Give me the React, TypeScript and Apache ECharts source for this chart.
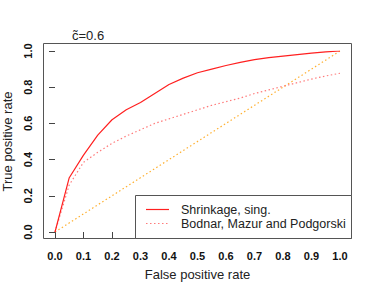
import React, { useEffect, useRef } from "react";
import * as echarts from "echarts";

const fpr = [0, 0.05, 0.1, 0.15, 0.2, 0.25, 0.3, 0.35, 0.4, 0.45, 0.5, 0.55, 0.6, 0.65, 0.7, 0.75, 0.8, 0.85, 0.9, 0.95, 1];
const shrinkageTpr = [0, 0.3, 0.425, 0.535, 0.62, 0.675, 0.715, 0.765, 0.815, 0.85, 0.88, 0.9, 0.92, 0.937, 0.952, 0.963, 0.972, 0.98, 0.988, 0.995, 1.0];
const bmpTpr = [0, 0.26, 0.385, 0.44, 0.49, 0.53, 0.565, 0.6, 0.625, 0.65, 0.675, 0.7, 0.72, 0.74, 0.765, 0.785, 0.805, 0.825, 0.845, 0.862, 0.877];
const diagX = [0, 1];
const diagY = [0, 1];
const seriesNames = ["Shrinkage, sing.", "Bodnar, Mazur and Podgorski"];
const titleText = "c\u0303=0.6";

const FONT = "'Liberation Sans', Arial, Helvetica, sans-serif";
const RED = "#ff2020";
const PINK = "#ff7a7a";
const ORANGE = "#ffb030";

export default function App() {
  const ref = useRef<HTMLDivElement>(null);
  useEffect(() => {
    if (!ref.current) return;
    const chart = echarts.init(ref.current, null, { renderer: "svg" });
    chart.setOption({
      animation: false,
      backgroundColor: "#ffffff",
      textStyle: { fontFamily: FONT },
      grid: { left: 55, top: 51, width: 285, height: 181, containLabel: false, outerBoundsMode: "none" },
      xAxis: {
        type: "value",
        min: 0,
        max: 1,
        interval: 0.1,
        offset: 7,
        name: "False positive rate",
        nameLocation: "middle",
        nameGap: 29,
        nameTextStyle: { fontSize: 13, color: "#222", fontFamily: FONT },
        axisLine: { show: false },
        axisTick: { show: true, length: 6, lineStyle: { color: "#444" } },
        splitLine: { show: false },
        axisLabel: {
          fontSize: 11,
          fontWeight: "bold",
          color: "#111",
          margin: 11,
          fontFamily: FONT,
          formatter: (v: number) => v.toFixed(1),
        },
      },
      yAxis: {
        type: "value",
        min: 0,
        max: 1,
        interval: 0.2,
        offset: 12,
        name: "True positive rate",
        nameLocation: "middle",
        nameGap: 29,
        nameTextStyle: { fontSize: 13, color: "#222", fontFamily: FONT },
        axisLine: { show: false },
        axisTick: { show: true, length: 6, lineStyle: { color: "#444" } },
        splitLine: { show: false },
        axisLabel: {
          fontSize: 11,
          fontWeight: "bold",
          color: "#111",
          rotate: 90,
          margin: 10,
          fontFamily: FONT,
          formatter: (v: number) => v.toFixed(1),
        },
      },
      graphic: [
        {
          type: "rect",
          shape: { x: 43.5, y: 43.5, width: 308, height: 195 },
          style: { fill: "none", stroke: "#555", lineWidth: 1 },
          z: 10,
          silent: true,
        },
        {
          type: "rect",
          shape: { x: 135.5, y: 195.5, width: 216, height: 43 },
          style: { fill: "#fff", stroke: "#555", lineWidth: 1 },
          z: 10,
          silent: true,
        },
        {
          type: "line",
          shape: { x1: 146, y1: 209.5, x2: 169, y2: 209.5 },
          style: { stroke: RED, lineWidth: 1.2 },
          z: 11,
          silent: true,
        },
        {
          type: "line",
          shape: { x1: 146, y1: 223.5, x2: 169, y2: 223.5 },
          style: { stroke: PINK, lineWidth: 1.2, lineDash: [1.5, 2.5] },
          z: 11,
          silent: true,
        },
        {
          type: "text",
          x: 181,
          y: 209.5,
          style: { text: seriesNames[0], fontSize: 12.5, fill: "#222", fontFamily: FONT, verticalAlign: "middle" },
          z: 11,
        },
        {
          type: "text",
          x: 181,
          y: 223.5,
          style: { text: seriesNames[1], fontSize: 12.5, fill: "#222", fontFamily: FONT, verticalAlign: "middle" },
          z: 11,
        },
        {
          type: "text",
          left: 72,
          top: 29,
          style: { text: titleText, fontSize: 13, fill: "#222", fontFamily: FONT },
          z: 10,
        },
      ],
      series: [
        {
          name: seriesNames[0],
          type: "line",
          data: fpr.map((x, i) => [x, shrinkageTpr[i]]),
          symbol: "none",
          lineStyle: { color: RED, width: 1.2, type: "solid" },
          itemStyle: { color: RED },
          z: 3,
        },
        {
          name: seriesNames[1],
          type: "line",
          data: fpr.map((x, i) => [x, bmpTpr[i]]),
          symbol: "none",
          lineStyle: { color: PINK, width: 1.2, type: [1.5, 2.5] },
          itemStyle: { color: PINK },
          z: 2,
        },
        {
          name: "diag",
          type: "line",
          data: diagX.map((x, i) => [x, diagY[i]]),
          symbol: "none",
          lineStyle: { color: ORANGE, width: 1.2, type: [1.5, 2.5] },
          itemStyle: { color: ORANGE },
          z: 1,
        },
      ],
    });
    return () => chart.dispose();
  }, []);
  return <div ref={ref} style={{ width: 374, height: 294, position: "absolute", left: 0, top: 0 }} />;
}
